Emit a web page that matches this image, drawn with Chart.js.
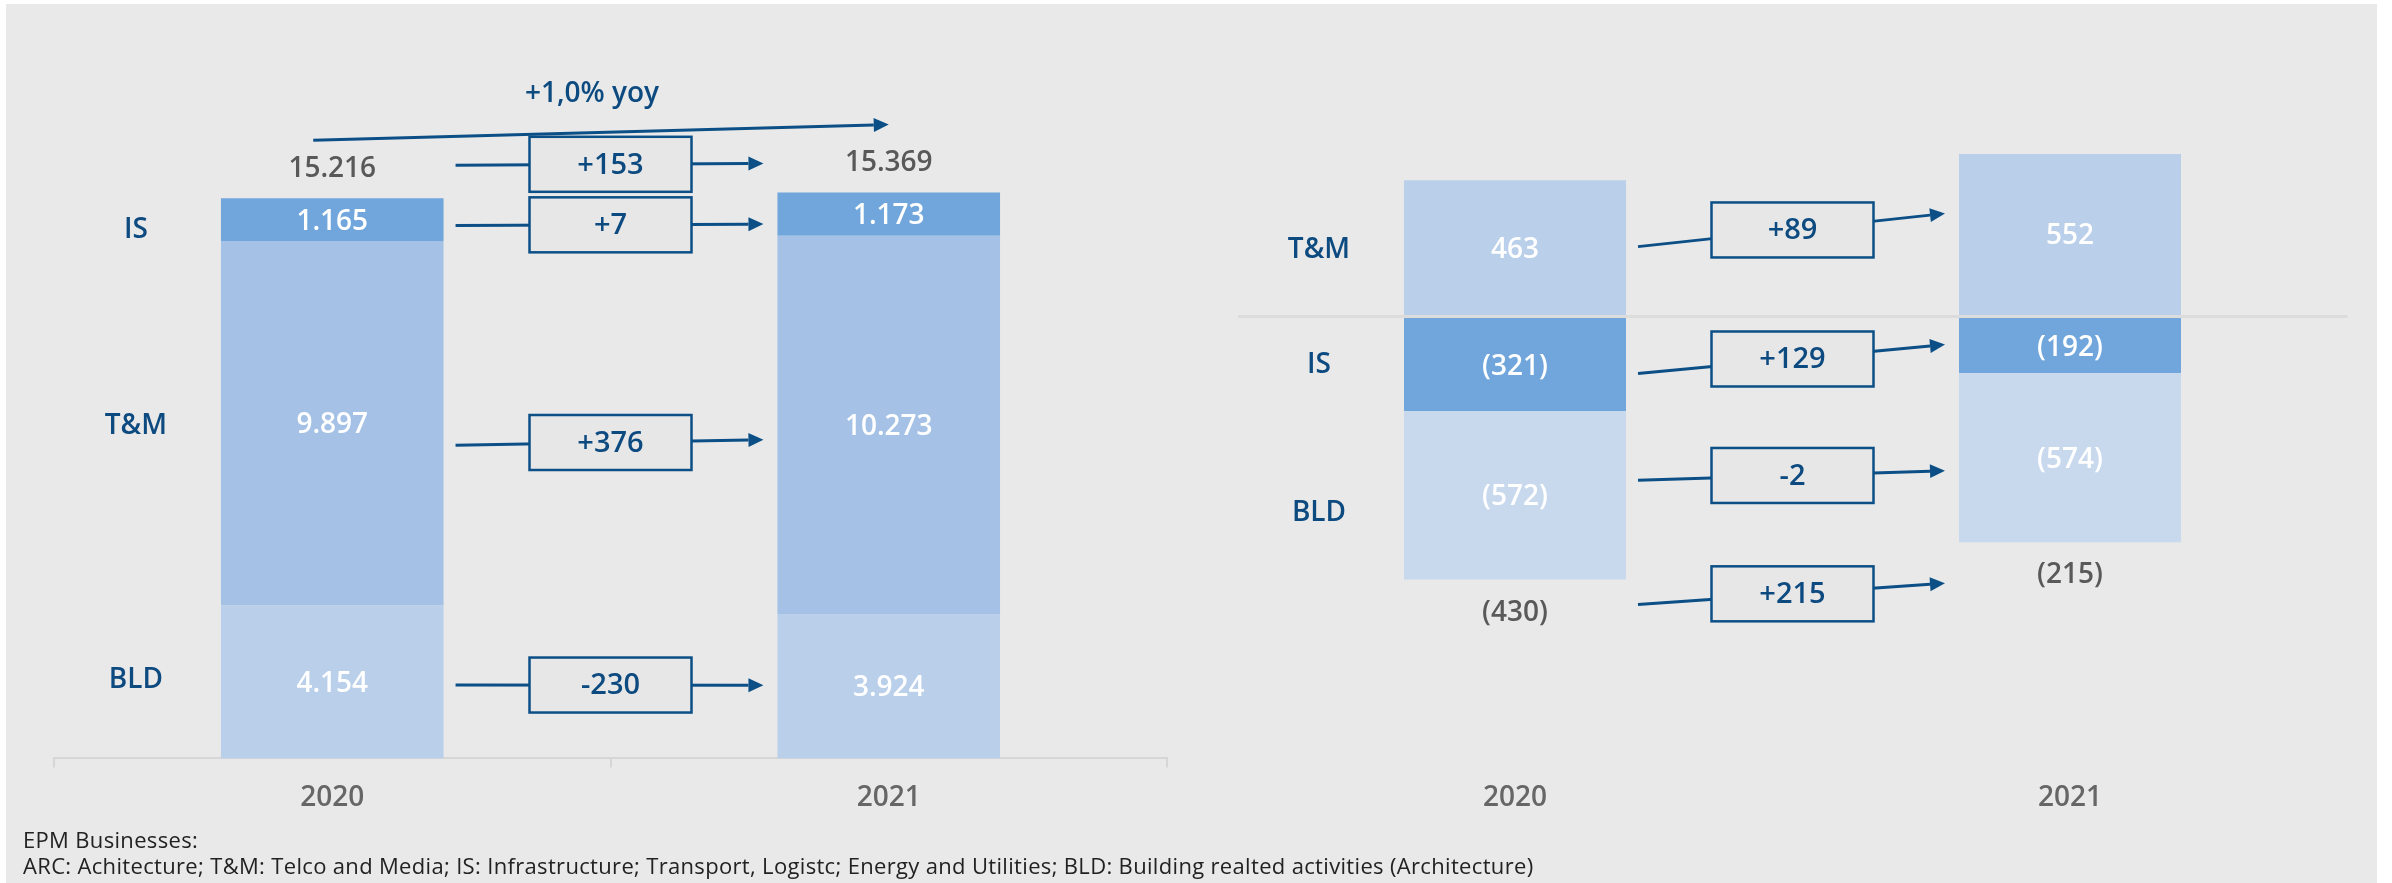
<!DOCTYPE html>
<html lang="en">
<head>
<meta charset="UTF-8">
<script src="https://cdn.jsdelivr.net/npm/chart.js"></script>
<title>EPM Businesses</title>
<style>
    body { margin: 0; background: #fff; width: 2392px; height: 883px; overflow: hidden; font-family: "Open Sans", sans-serif; }
    #bg { position: absolute; left: 6px; top: 4px; width: 2371px; height: 879px; background: #e9e9e9; }
    #leftBox { position: absolute; left: 0; top: 0; width: 1190px; height: 883px; }
    #rightBox { position: absolute; left: 1190px; top: 0; width: 1202px; height: 883px; }
    #note { position: absolute; left: 23px; top: 826px; font-size: 22px; letter-spacing: 0.33px; line-height: 26px; color: #222; }
</style>
</head>
<body>
<div id="bg"></div>
<div id="leftBox"><canvas id="leftChart" width="1190" height="883"></canvas></div>
<div id="rightBox"><canvas id="rightChart" width="1202" height="883"></canvas></div>
<div id="note">EPM Businesses:<br>ARC: Achitecture; T&amp;M: Telco and Media; IS: Infrastructure; Transport, Logistc; Energy and Utilities; BLD: Building realted activities (Architecture)</div>
<script>
    // categories
    const years = ['2020', '2021'];

    // left chart: stacked values per business
    const leftBLD = [4154, 3924];
    const leftTM = [9897, 10273];
    const leftIS = [1165, 1173];
    const leftTotals = [15216, 15369];
    const leftDeltas = [153, 7, 376, -230]; // total, IS, T&M, BLD
    const yoyText = '+1,0% yoy';

    // right chart
    const rightTM = [463, 552];
    const rightIS = [-321, -192];
    const rightBLD = [-572, -574];
    const rightTotals = [-430, -215];
    const rightDeltas = [89, 129, -2, 215]; // T&M, IS, BLD, total

    const BLUE = '#0b4f86';
    const TXT_BLUE = '#0d4a80';
    const FONT = '"Open Sans", sans-serif';

    function fmtDot(n) {
        return String(n).replace(/\B(?=(\d{3})+(?!\d))/g, '.');
    }
    function fmtParen(n) {
        return n < 0 ? '(' + Math.abs(n) + ')' : String(n);
    }
    function fmtDelta(n) {
        return (n > 0 ? '+' : '') + n;
    }

    function drawArrow(ctx, x1, y1, x2, y2) {
        const a = Math.atan2(y2 - y1, x2 - x1);
        const hl = 15, hw = 7;
        const bx = x2 - hl * Math.cos(a), by = y2 - hl * Math.sin(a);
        ctx.strokeStyle = BLUE;
        ctx.fillStyle = BLUE;
        ctx.lineWidth = 3;
        ctx.beginPath();
        ctx.moveTo(x1, y1);
        ctx.lineTo(bx, by);
        ctx.stroke();
        ctx.beginPath();
        ctx.moveTo(x2, y2);
        ctx.lineTo(bx + hw * Math.sin(a), by - hw * Math.cos(a));
        ctx.lineTo(bx - hw * Math.sin(a), by + hw * Math.cos(a));
        ctx.closePath();
        ctx.fill();
    }

    function drawBox(ctx, cx, cy, text) {
        const w = 162, h = 55;
        ctx.fillStyle = '#e7e7e7';
        ctx.fillRect(cx - w / 2, cy - h / 2, w, h);
        ctx.strokeStyle = BLUE;
        ctx.lineWidth = 2.5;
        ctx.strokeRect(cx - w / 2, cy - h / 2, w, h);
        ctx.fillStyle = TXT_BLUE;
        ctx.font = '600 29px ' + FONT;
        ctx.textAlign = 'center';
        ctx.textBaseline = 'middle';
        ctx.fillText(text, cx, cy + 1);
    }

    // labels, row names, totals and bridge arrows
    const overlay = {
        id: 'overlay',
        afterDatasetsDraw(chart, args, opts) {
            const ctx = chart.ctx;
            const metas = chart.data.datasets.map((d, i) => chart.getDatasetMeta(i));
            const seg = (di, j) => {
                const el = metas[di].data[j];
                return { x: el.x, cy: (el.y + el.base) / 2, l: el.x - el.width / 2, r: el.x + el.width / 2,
                    top: Math.min(el.y, el.base), bot: Math.max(el.y, el.base) };
            };
            ctx.save();
            ctx.textAlign = 'center';
            ctx.textBaseline = 'middle';

            // values inside the bars
            ctx.font = '600 28px ' + FONT;
            ctx.fillStyle = '#ffffff';
            chart.data.datasets.forEach((ds, di) => {
                ds.data.forEach((v, j) => {
                    const s = seg(di, j);
                    ctx.fillText(opts.fmt(v), s.x, s.cy + 2);
                });
            });

            // row names left of the first bar
            ctx.font = '600 28px ' + FONT;
            ctx.fillStyle = TXT_BLUE;
            opts.rows.forEach(r => {
                const s = seg(r.ds, 0);
                ctx.fillText(chart.data.datasets[r.ds].label, s.l - 85, s.cy + r.dy);
            });

            // totals
            const totalY = [];
            opts.totals.forEach((t, j) => {
                let top = Infinity, bot = -Infinity, x = 0;
                metas.forEach((m, di) => {
                    const s = seg(di, j);
                    top = Math.min(top, s.top);
                    bot = Math.max(bot, s.bot);
                    x = s.x;
                });
                const y = opts.totalSide === 'top' ? top - 29 : bot + 33;
                totalY.push(y);
                ctx.font = '600 28px ' + FONT;
                ctx.fillStyle = '#595959';
                ctx.fillText(opts.fmt(t), x, y);
            });

            // bridge arrows with delta boxes
            opts.arrows.forEach(a => {
                let y0, y1;
                const s0 = seg(0, 0), s1 = seg(0, 1);
                if (a.ds === 'total') {
                    y0 = totalY[0]; y1 = totalY[1];
                } else {
                    y0 = seg(a.ds, 0).cy; y1 = seg(a.ds, 1).cy;
                }
                y0 += a.nudge[0]; y1 += a.nudge[1];
                const x0 = s0.r + 12, x1 = s1.l - 14;
                drawArrow(ctx, x0, y0, x1, y1);
                const cx = (s0.r + s1.l) / 2;
                const cy = y0 + (y1 - y0) * (cx - x0) / (x1 - x0);
                drawBox(ctx, cx, cy, fmtDelta(a.delta));
            });

            // overall yoy arrow
            if (opts.yoy) {
                const s0 = seg(0, 0), s1 = seg(0, 1);
                let top0 = Infinity, top1 = Infinity;
                metas.forEach((m, di) => { top0 = Math.min(top0, seg(di, 0).top); top1 = Math.min(top1, seg(di, 1).top); });
                const ax = s0.x - 19, ay = top0 - 58, bx = s1.x, by = top1 - 68;
                drawArrow(ctx, ax, ay, bx, by);
                ctx.font = '600 28px ' + FONT;
                ctx.fillStyle = TXT_BLUE;
                ctx.fillText(opts.yoy, (ax + bx) / 2 - 9, (ay + by) / 2 - 38);
            }
            ctx.restore();
        }
    };

    const xTicks = { color: '#666666', font: { family: FONT, size: 28, weight: '600' }, padding: 14 };

    new Chart(document.getElementById('leftChart'), {
        type: 'bar',
        data: {
            labels: years,
            datasets: [
                { label: 'BLD', data: leftBLD, backgroundColor: '#bacfea' },
                { label: 'T&M', data: leftTM, backgroundColor: '#a5c2e6' },
                { label: 'IS', data: leftIS, backgroundColor: '#70a6db' }
            ]
        },
        options: {
            responsive: false,
            animation: false,
            layout: { padding: { left: 54, right: 23, top: 22, bottom: 54 } },
            datasets: { bar: { barPercentage: 0.4, categoryPercentage: 1 } },
            scales: {
                x: {
                    stacked: true,
                    grid: { offset: true, drawOnChartArea: false, tickLength: 9, color: '#d6d6d6', lineWidth: 2 },
                    border: { display: true, color: '#d6d6d6', width: 2 },
                    ticks: xTicks
                },
                y: { stacked: true, display: false, min: 0, max: 20000 }
            },
            plugins: {
                legend: { display: false },
                tooltip: { enabled: false },
                overlay: {
                    fmt: fmtDot,
                    totals: leftTotals,
                    totalSide: 'top',
                    rows: [{ ds: 2, dy: 10 }, { ds: 1, dy: 3 }, { ds: 0, dy: -2 }],
                    arrows: [
                        { ds: 'total', delta: leftDeltas[0], nudge: [-4, 0] },
                        { ds: 2, delta: leftDeltas[1], nudge: [6, 10] },
                        { ds: 1, delta: leftDeltas[2], nudge: [22, 15] },
                        { ds: 0, delta: leftDeltas[3], nudge: [3, -1] }
                    ],
                    yoy: yoyText
                }
            }
        },
        plugins: [overlay]
    });

    new Chart(document.getElementById('rightChart'), {
        type: 'bar',
        data: {
            labels: years,
            datasets: [
                { label: 'T&M', data: rightTM, backgroundColor: '#bacfea' },
                { label: 'IS', data: rightIS, backgroundColor: '#70a6db' },
                { label: 'BLD', data: rightBLD, backgroundColor: '#c8d9ee' }
            ]
        },
        options: {
            responsive: false,
            animation: false,
            layout: { padding: { left: 47.5, right: 44.5, top: 22, bottom: 54 } },
            datasets: { bar: { barPercentage: 0.4, categoryPercentage: 1 } },
            scales: {
                x: {
                    stacked: true,
                    grid: { offset: true, drawOnChartArea: false, tickLength: 9, color: 'rgba(0,0,0,0)' },
                    border: { display: false },
                    ticks: xTicks
                },
                y: {
                    stacked: true,
                    min: -1500, max: 1000,
                    ticks: { display: false, stepSize: 500 },
                    border: { display: false },
                    grid: {
                        drawTicks: false,
                        lineWidth: 3,
                        color: c => (c.tick && c.tick.value === 0) ? '#dcdcdc' : 'rgba(0,0,0,0)'
                    }
                }
            },
            plugins: {
                legend: { display: false },
                tooltip: { enabled: false },
                overlay: {
                    fmt: fmtParen,
                    totals: rightTotals,
                    totalSide: 'bottom',
                    rows: [{ ds: 0, dy: 2 }, { ds: 1, dy: 0 }, { ds: 2, dy: 18 }],
                    arrows: [
                        { ds: 0, delta: rightDeltas[0], nudge: [-1, -21] },
                        { ds: 1, delta: rightDeltas[1], nudge: [9, -1] },
                        { ds: 2, delta: rightDeltas[2], nudge: [-15, 13] },
                        { ds: 'total', delta: rightDeltas[3], nudge: [-8, 8] }
                    ]
                }
            }
        },
        plugins: [overlay]
    });
</script>
</body>
</html>
